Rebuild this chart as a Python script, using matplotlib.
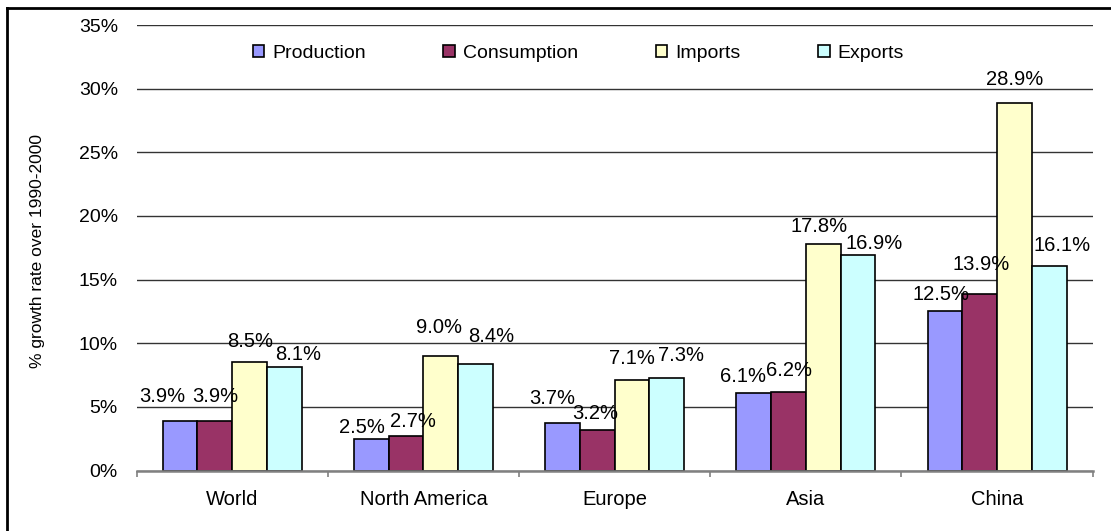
import numpy as np
import matplotlib
matplotlib.use("Agg")
import matplotlib.pyplot as plt
from matplotlib.patches import Patch
from matplotlib.lines import Line2D

plt.rcParams['font.family'] = ['Liberation Sans', 'DejaVu Sans']

regions = ['World', 'North America', 'Europe', 'Asia', 'China']
series = ['Production', 'Consumption', 'Imports', 'Exports']
production = [3.9, 2.5, 3.7, 6.1, 12.5]
consumption = [3.9, 2.7, 3.2, 6.2, 13.9]
imports = [8.5, 9.0, 7.1, 17.8, 28.9]
exports = [8.1, 8.4, 7.3, 16.9, 16.1]
colors = ['#9999FF', '#993366', '#FFFFCC', '#CCFFFF']

# label nudges in pixels (dx, dy of text centre from bar top centre)
nudges = [
    [(-18, 24), (-9, 11), (-10, 25), (-11, 16), (-4, 17)],
    [(0, 24), (7, 15), (-2, 16), (1, 21), (1, 29)],
    [(0, 21), (-2, 28), (0, 22), (-4, 17), (0, 23)],
    [(14, 13), (16, 27), (14, 22), (16, 12), (13, 20)],
]

values = [production, consumption, imports, exports]
x = np.arange(len(regions))
w = 1 / 5.5

fig = plt.figure(figsize=(11.11, 5.31), dpi=100)
ax = fig.add_axes([0.123, 0.1139, 0.8605, 0.839])

px = 72 / 100
for k, vals in enumerate(values):
    pos = x + (k - 1.5) * w
    ax.bar(pos, vals, w, color=colors[k], edgecolor='black', linewidth=1.2,
           zorder=3, label=series[k])
    for i, v in enumerate(vals):
        dx, dy = nudges[k][i]
        ax.annotate(f'{v:.1f}%', (pos[i], v), xytext=(dx * px, dy * px),
                    textcoords='offset points', ha='center', va='center',
                    fontsize=14.5, zorder=4)

ax.set_ylim(0, 35)
ax.set_xlim(-0.5, 4.5)
ax.set_yticks(np.arange(0, 36, 5))
ax.set_yticklabels([f'{t}%' for t in range(0, 36, 5)], fontsize=14)
ax.tick_params(axis='y', length=0, pad=13.5)
ax.yaxis.grid(True, color='#333333', linewidth=1.0, zorder=0)
ax.set_axisbelow(True)

ax.set_xticks(x)
ax.set_xticklabels(regions, fontsize=14.5)
ax.set_xticks(np.arange(-0.5, 5, 1), minor=True)
ax.tick_params(axis='x', which='major', length=0, pad=14)
ax.tick_params(axis='x', which='minor', length=4, width=1.2, color='#808080')

for s in ['top', 'right', 'left']:
    ax.spines[s].set_visible(False)
ax.spines['bottom'].set_color('#808080')
ax.spines['bottom'].set_linewidth(1.8)
ax.spines['bottom'].set_zorder(5)

fig.text(0.034, 0.528, '% growth rate over 1990-2000', rotation=90,
         ha='center', va='center', fontsize=12.5)

handles = [Patch(facecolor=c, edgecolor='black', linewidth=1.2) for c in colors]
ax.legend(handles, series, loc='center', bbox_to_anchor=(0.462, 0.937),
          ncol=4, frameon=False, fontsize=14, handlelength=0.6,
          handleheight=0.6, handletextpad=0.4, columnspacing=4.0)

# outer frame edges
fig.add_artist(Line2D([0.0063, 0.0063], [0, 0.985], color='black', linewidth=2))
fig.add_artist(Line2D([0.0063, 1], [0.985, 0.985], color='black', linewidth=2))

fig.savefig('out.png', dpi=100)
